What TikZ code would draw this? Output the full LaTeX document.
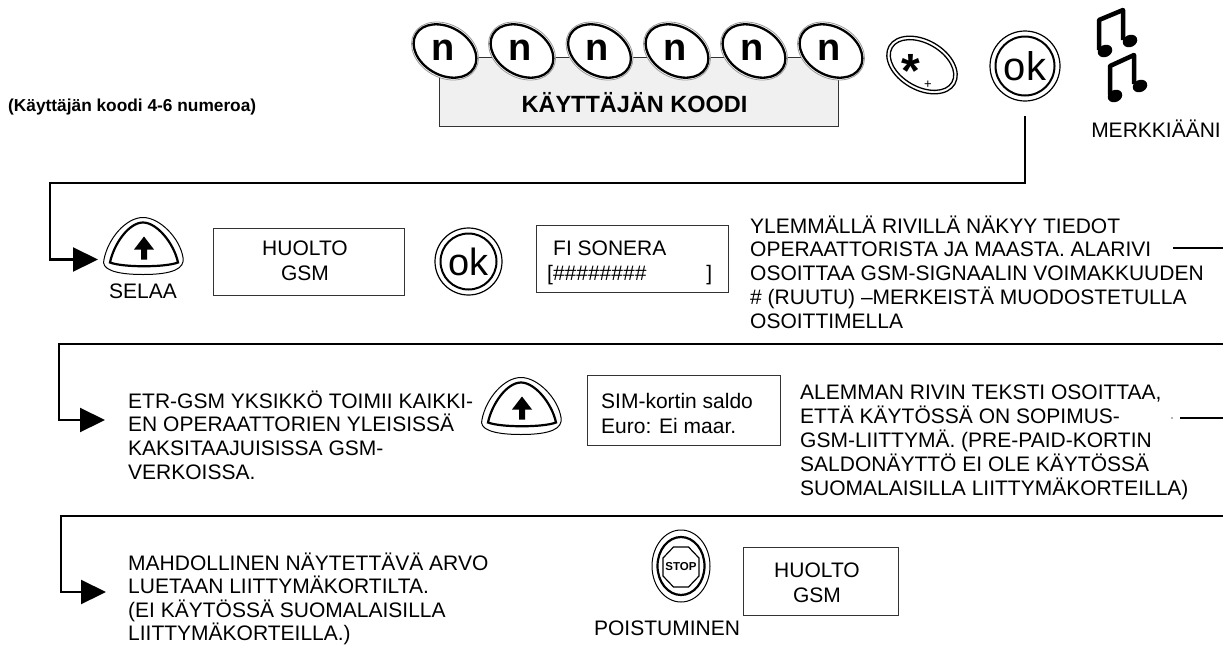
\documentclass[tikz,border=0pt]{standalone}
\usepackage{fontspec}
\setmainfont{Liberation Sans}
\usetikzlibrary{arrows.meta}
\newcommand{\LL}[2][24pt]{\vtop{\baselineskip=#1\lineskiplimit=-100pt\lineskip=0pt\halign{##\hfil\cr#2\crcr}}}
\newcommand{\CC}[2][25pt]{\vtop{\baselineskip=#1\lineskiplimit=-100pt\lineskip=0pt\halign{\hfil##\hfil\cr#2\crcr}}}
\tikzset{
  upkey/.pic={
    \draw[line width=1pt, fill=white] (-39,13) .. controls (-35,-8) and (-17,-29) .. (0,-29) .. controls (17,-29) and (37,-8) .. (40,11) .. controls (42,22) and (30,28) .. (0,28) .. controls (-30,28) and (-42,22) .. (-39,13) -- cycle;
    \draw[line width=2.2pt] (-33,16) .. controls (-29,-3) and (-14,-24) .. (0,-24) .. controls (14,-24) and (31,-3) .. (35,16) .. controls (22,21) and (-20,21) .. (-33,16) -- cycle;
    \fill (1,-10) -- (11,3) -- (4,3) -- (4,13) -- (-2,13) -- (-2,3) -- (-9,3) -- cycle;
    \coordinate (-w) at (-39,13);
  }
}
\begin{document}
\begin{tikzpicture}[x=1pt,y=-1pt,
  txt/.style={inner sep=0pt, font=\fontsize{21}{24}\selectfont},
  btxt/.style={inner sep=0pt, font=\fontsize{17.3}{20}\selectfont\bfseries},
  disp/.style={draw=black!80, line width=1.3pt, inner sep=0pt, anchor=north west},
  flow/.style={line width=2.2pt, -{Triangle[length=25pt,width=24pt]}},
  wire/.style={line width=2.2pt},
  note/.style={line width=4.5pt, line join=round}
]
\fill[white] (0,0) rectangle (1223,646);
\useasboundingbox (0,0) rectangle (1223,646);

% header
\node[btxt, anchor=base west] (hint) at (8,111) {(Käyttäjän koodi 4-6 numeroa)};
\node[disp, fill=black!6, minimum width=399pt, minimum height=69pt] (codebox) at (439,57) {};
\node[inner sep=0pt, anchor=base, font=\fontsize{23.5}{26}\selectfont\bfseries] (codetxt) at (634.5,112) {KÄYTTÄJÄN KOODI};

\foreach \i/\cx in {1/445,2/522,3/599.5,4/677,5/754,6/831}{
  \draw[black!40, line width=0.8pt, fill=white, rotate around={-30:(\cx,51)}] (\cx,51) ellipse [x radius=35.5, y radius=26.5];
  \draw[line width=2.3pt, rotate around={-30:(\cx,51)}] (\cx,51) ellipse [x radius=33.5, y radius=24];
  \node[font=\fontsize{38}{40}\selectfont\bfseries, inner sep=0pt] (n\i) at (\cx-2,50) {n};
}

% star key
\draw[line width=1.3pt, rotate around={-30:(922,65)}] (922,65) ellipse [x radius=38, y radius=25];
\draw[line width=1.3pt, rotate around={-30:(922,65)}] (922,65) ellipse [x radius=34.5, y radius=21.5];
\node[anchor=base, inner sep=0pt, font=\fontsize{48}{50}\selectfont\bfseries] (star) at (911,87) {*};
\node[anchor=base, inner sep=0pt, font=\fontsize{13}{13}\selectfont] (plus) at (928,88) {+};

% ok key top
\node[circle, draw, line width=1.2pt, minimum size=70pt, inner sep=0pt, font=\fontsize{40}{42}\selectfont] (okA) at (1025,66) {ok};
\draw[line width=2pt] (okA.center) circle [radius=29.5];

% beep notes
\draw[note] (1099,50) -- (1099,20) -- (1123,10) -- (1123,40);
\fill[rotate around={25:(1105,51)}] (1105,51) ellipse [x radius=7.5, y radius=6];
\fill[rotate around={25:(1130,41)}] (1130,41) ellipse [x radius=7.5, y radius=6];
\draw[note] (1110,95) -- (1110,66) -- (1134,55) -- (1134,84);
\fill[rotate around={25:(1115,96)}] (1115,96) ellipse [x radius=7.5, y radius=6];
\fill[rotate around={25:(1140,86)}] (1140,86) ellipse [x radius=7.5, y radius=6];
\node[txt, anchor=base] (beep) at (1156,137) {MERKKIÄÄNI};

% row 1
\pic (keyA) at (143,246.5) {upkey};
\node[txt, anchor=base] (selaa) at (143,298) {SELAA};
\coordinate (t1) at (50,183);
\draw[flow] ([yshift=-14pt]okA.south) -- (okA.south |- t1) -- (t1) |- ([xshift=-6pt]keyA-w);

\node[disp, minimum width=191pt, minimum height=67pt] (disp1) at (213,228) {};
\node[txt, anchor=base] (disp1txt) at (305,255) {\CC{HUOLTO\cr GSM}};

\node[circle, draw, line width=1.2pt, minimum size=67pt, inner sep=0pt, font=\fontsize{38}{40}\selectfont] (okB) at (468.5,261.5) {ok};
\draw[line width=2pt] (okB.center) circle [radius=28];

\node[disp, minimum width=192pt, minimum height=67pt] (disp2) at (536,225) {};
\node[txt, anchor=base west] (disp2a) at (553,255) {FI SONERA};
\node[txt, anchor=base west] (disp2b) at (547,280) {\makebox[165pt][l]{[\#\#\#\#\#\#\#\#\hfill]}};

\node[txt, anchor=base west] (desc1) at (750,233) {\LL[23.8pt]{YLEMMÄLLÄ RIVILLÄ NÄKYY TIEDOT\cr OPERAATTORISTA JA MAASTA. ALARIVI\cr OSOITTAA GSM-SIGNAALIN VOIMAKKUUDEN\cr \# (RUUTU) –MERKEISTÄ MUODOSTETULLA\cr OSOITTIMELLA}};
\coordinate (s1) at (1173,248);
\coordinate (e1) at (1223,248);
\draw[wire] (s1) -- (e1);

% row 2
\coordinate (e2) at (1223,344);
\coordinate (t2) at (59,344);
\coordinate (a2) at (105,420);
\draw[flow] (e2) -- (t2) |- (a2);
\node[txt, anchor=base west] (desc2) at (128,408) {\LL[23.8pt]{ETR-GSM YKSIKKÖ TOIMII KAIKKI-\cr EN OPERAATTORIEN YLEISISSÄ\cr KAKSITAAJUISISSA GSM-\cr VERKOISSA.}};
\pic (keyB) at (521,406.5) {upkey};
\node[disp, minimum width=193pt, minimum height=70pt] (disp3) at (587,375) {};
\node[txt, anchor=base west] (disp3txt) at (601,408) {\LL[25pt]{SIM-kortin saldo\cr Euro: Ei maar.}};
\node[txt, anchor=base west] (desc3) at (800,399) {\LL[24pt]{ALEMMAN RIVIN TEKSTI OSOITTAA,\cr ETTÄ KÄYTÖSSÄ ON SOPIMUS-\cr GSM-LIITTYMÄ. (PRE-PAID-KORTIN\cr SALDONÄYTTÖ EI OLE KÄYTÖSSÄ\cr SUOMALAISILLA LIITTYMÄKORTEILLA)}};
\coordinate (s2) at (1180,418);
\coordinate (e2b) at (1223,418);
\draw[wire] (s2) -- (e2b);
\fill[black!60] (1172,418) circle [radius=0.9];

% row 3
\coordinate (e3) at (1223,516);
\coordinate (t3) at (61,516);
\coordinate (a3) at (106,592);
\draw[flow] (e3) -- (t3) |- (a3);
\node[txt, anchor=base west] (desc4) at (128,570) {\LL[23.5pt]{MAHDOLLINEN NÄYTETTÄVÄ ARVO\cr LUETAAN LIITTYMÄKORTILTA.\cr (EI KÄYTÖSSÄ SUOMALAISILLA\cr LIITTYMÄKORTEILLA.)}};

\draw[line width=1pt] (681,566) ellipse [x radius=29, y radius=36];
\draw[line width=2.2pt] (681,566) ellipse [x radius=23.5, y radius=29];
\draw[line width=1.2pt] (673.5,547) -- (688.5,547) -- (699,558) -- (699,576) -- (688.5,587) -- (673.5,587) -- (663,576) -- (663,558) -- cycle;
\node[inner sep=0pt, font=\fontsize{11.5}{12}\selectfont\bfseries] (stoptxt) at (681,567) {STOP};
\node[txt, anchor=base] (exit) at (667,635) {POISTUMINEN};
\node[disp, minimum width=155pt, minimum height=68pt] (disp4) at (743,547) {};
\node[txt, anchor=base] (disp4txt) at (817,577) {\CC[25pt]{HUOLTO\cr GSM}};
\end{tikzpicture}
\end{document}
